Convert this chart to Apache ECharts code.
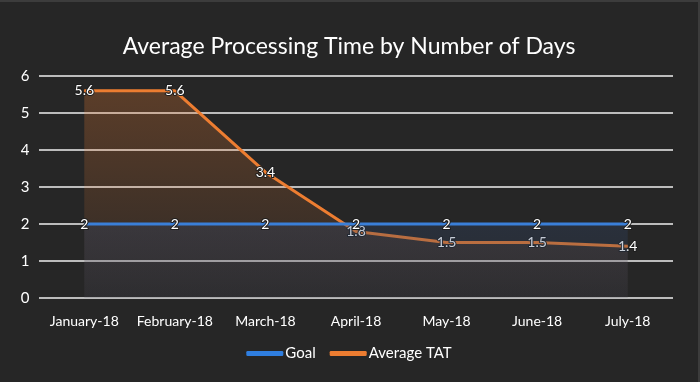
<!DOCTYPE html>
<html>
<head>
<meta charset="utf-8">
<script src="https://cdn.jsdelivr.net/npm/echarts@6/dist/echarts.min.js"></script>
<style>
html,body{margin:0;padding:0;background:#262626;}
#c{width:700px;height:382px;box-sizing:border-box;border-top:2px solid #3c3c3c;border-right:2px solid #3c3c3c;}
</style>
</head>
<body>
<div id="c"></div>
<script>
var categories = ['January-18','February-18','March-18','April-18','May-18','June-18','July-18'];
var goalValues = [2,2,2,2,2,2,2];
var tatValues = [5.6,5.6,3.4,1.8,1.5,1.5,1.4];
var yTicks = {min:0, max:6, interval:1};

var FONT = 'Lato';
var chart = echarts.init(document.getElementById('c'), null, {renderer:'canvas'});
var labelStyle = {
  show:true, position:'inside', color:'#ffffff', fontFamily:FONT, fontSize:14,
  textBorderColor:'#1e1e1e', textBorderWidth:2
};
chart.setOption({
  backgroundColor:'#262626',
  title:{
    text:'Average Processing Time by Number of Days',
    left:'center', top:28,
    textStyle:{color:'#ffffff', fontFamily:FONT, fontSize:23, fontWeight:'normal'}
  },
  legend:{
    bottom:16, left:'center', itemWidth:37, itemHeight:5, itemGap:14,
    icon:'roundRect',
    textStyle:{color:'#ffffff', fontFamily:FONT, fontSize:15, padding:[0,0,0,-3]},
    data:['Goal','Average TAT']
  },
  grid:{left:39, right:25, top:74, bottom:84},
  xAxis:{
    type:'category', data:categories, boundaryGap:true,
    axisLine:{show:false}, axisTick:{show:false},
    axisLabel:{color:'#ffffff', fontFamily:FONT, fontSize:14, margin:16, interval:0}
  },
  yAxis:{
    type:'value', min:yTicks.min, max:yTicks.max, interval:yTicks.interval,
    axisLine:{show:false}, axisTick:{show:false},
    axisLabel:{color:'#ffffff', fontFamily:FONT, fontSize:15, margin:14, align:'center'},
    splitLine:{lineStyle:{color:'#bcbcbc', width:2}}
  },
  series:[
    {
      name:'Average TAT', type:'line', data:tatValues, showSymbol:true, symbol:'circle', symbolSize:1,
      showAllSymbol:true, z:2,
      lineStyle:{color:'#ED7D31', width:3},
      itemStyle:{color:'#ED7D31'},
      areaStyle:{color:new echarts.graphic.LinearGradient(0,0,0,1,[
        {offset:0,color:'rgba(237,125,49,0.38)'},
        {offset:1,color:'rgba(237,125,49,0.05)'}
      ])},
      label:labelStyle
    },
    {
      name:'Goal', type:'line', data:goalValues, showSymbol:true, symbol:'circle', symbolSize:1,
      showAllSymbol:true, z:3,
      lineStyle:{color:'#3a7fd8', width:3},
      itemStyle:{color:'#2f7ee0'},
      areaStyle:{color:new echarts.graphic.LinearGradient(0,0,0,1,[
        {offset:0,color:'rgba(49,70,106,0.45)'},
        {offset:1,color:'rgba(49,70,106,0.2)'}
      ])},
      label:labelStyle
    }
  ]
});
</script>
</body>
</html>
